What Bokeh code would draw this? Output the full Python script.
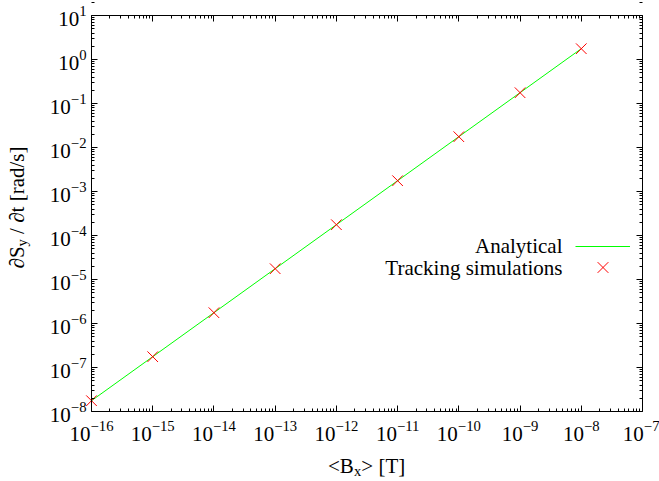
import math
from bokeh.plotting import figure
from bokeh.models import (LogAxis, FixedTicker, LogTickFormatter, Label, Legend,
                          LegendItem, Range1d, CustomJSTickFormatter)
from bokeh.embed import file_html
from bokeh.resources import INLINE

# ---- data ----
bx = [1e-16, 1e-15, 1e-14, 1e-13, 1e-12, 1e-11, 1e-10, 1e-9, 1e-8]
analytical = [1.76e-8, 1.76e-7, 1.76e-6, 1.76e-5, 1.76e-4, 1.76e-3, 1.76e-2, 1.76e-1, 1.76]
tracking = [1.76e-8, 1.76e-7, 1.76e-6, 1.76e-5, 1.76e-4, 1.76e-3, 1.76e-2, 1.76e-1, 1.76]
x_tick_exponents = [-16, -15, -14, -13, -12, -11, -10, -9, -8, -7]
y_tick_exponents = [-8, -7, -6, -5, -4, -3, -2, -1, 0, 1]
legend_labels = ["Analytical", "Tracking simulations"]

FONT = "Liberation Serif"
FS = "21px"
SUB = "14.5px"

# layout of the box inside the 659x481 canvas (pixels)
W, H = 659, 481
BOX_L, BOX_R, BOX_T, BOX_B = 91, 642, 15, 411

x_lo, x_hi = 10.0 ** x_tick_exponents[0], 10.0 ** x_tick_exponents[-1]
y_lo, y_hi = 10.0 ** y_tick_exponents[0], 10.0 ** y_tick_exponents[-1]
xdec = (BOX_R - BOX_L) / (x_tick_exponents[-1] - x_tick_exponents[0])
ydec = (BOX_B - BOX_T) / (y_tick_exponents[-1] - y_tick_exponents[0])
x_range = Range1d(10 ** (x_tick_exponents[0] - BOX_L / xdec),
                  10 ** (x_tick_exponents[-1] + (W - BOX_R) / xdec))
y_range = Range1d(10 ** (y_tick_exponents[0] - (H - BOX_B) / ydec),
                  10 ** (y_tick_exponents[-1] + BOX_T / ydec))

p = figure(width=W, height=H, x_axis_type="log", y_axis_type="log",
           x_axis_location=None, y_axis_location=None,
           x_range=x_range, y_range=y_range,
           output_backend="svg", toolbar_location=None,
           min_border=0)
p.background_fill_color = "white"
p.border_fill_color = "white"
p.outline_line_color = None
for g in p.grid:
    g.visible = False

r_line = p.line(bx, analytical, line_color="#00ff00", line_width=1)
r_pts = p.scatter(bx, tracking, marker="x", size=15, line_color="#ff0000", line_width=1)

def ticker(exps):
    return FixedTicker(ticks=[10.0 ** e for e in exps],
                       minor_ticks=[m * 10.0 ** e for e in exps for m in range(2, 10)])

bottom = LogAxis(fixed_location=y_lo, bounds=(x_lo, x_hi), ticker=ticker(x_tick_exponents),
                 formatter=LogTickFormatter(), major_label_standoff=9)
top = LogAxis(fixed_location=y_hi, bounds=(x_lo, x_hi), ticker=ticker(x_tick_exponents),
              formatter=CustomJSTickFormatter(code="return ' '"))
left = LogAxis(fixed_location=x_lo, bounds=(y_lo, y_hi), ticker=ticker(y_tick_exponents),
               formatter=LogTickFormatter(), major_label_standoff=5)
right = LogAxis(fixed_location=x_hi, bounds=(y_lo, y_hi), ticker=ticker(y_tick_exponents),
                formatter=CustomJSTickFormatter(code="return ' '"))
p.add_layout(bottom, "below")
p.add_layout(top, "above")
p.add_layout(left, "left")
p.add_layout(right, "right")

for ax in (bottom, top, left, right):
    ax.axis_line_color = "black"
    ax.axis_line_width = 1
    ax.major_tick_line_color = "black"
    ax.minor_tick_line_color = "black"
    ax.major_tick_in = 6
    ax.major_tick_out = 0
    ax.minor_tick_in = 3
    ax.minor_tick_out = 0
    ax.major_label_text_font = FONT
    ax.major_label_text_font_size = FS
    ax.major_label_text_color = "black"
for ax in (top, right):
    ax.major_label_text_font_size = "1px"
    ax.major_label_standoff = 0

# ---- legend: samples via Bokeh legends, texts right-aligned to their left ----
def sample_legend(renderer, x, y, h):
    return Legend(items=[LegendItem(label=" ", renderers=[renderer])],
                  location=(x, y), glyph_width=55, glyph_height=h,
                  label_width=0, label_standoff=0, label_text_font_size="1px",
                  padding=0, margin=0, spacing=0, border_line_color=None,
                  background_fill_alpha=0)

p.add_layout(sample_legend(r_line, 575, H - 256.5, 22))
p.add_layout(sample_legend(r_pts, 575, H - 286, 38))

for txt, yy in zip(legend_labels, (245, 267)):
    p.add_layout(Label(x=562, y=H - yy, x_units="screen", y_units="screen", text=txt,
                       text_font=FONT, text_font_size=FS, text_align="right",
                       text_baseline="middle", text_color="black"))

# ---- axis titles built from pieces (for the subscripts) ----
def lab(text, x, y, size=FS, angle=0.0):
    p.add_layout(Label(x=x, y=H - y, x_units="screen", y_units="screen", text=text,
                       text_font=FONT, text_font_size=size, text_align="left",
                       text_baseline="alphabetic", text_color="black", angle=angle))

lab("<B", 327.5, 465)
lab("x", 353.4, 470, SUB)
lab("> [T]", 360.8, 465)

A = math.pi / 2
lab("\u2202S", 16, 268, angle=A)
lab("y", 21, 246, SUB, angle=A)
lab("/ \u2202t [rad/s]", 16, 233.4, angle=A)

open("out.html", "w").write(file_html(p, INLINE))
